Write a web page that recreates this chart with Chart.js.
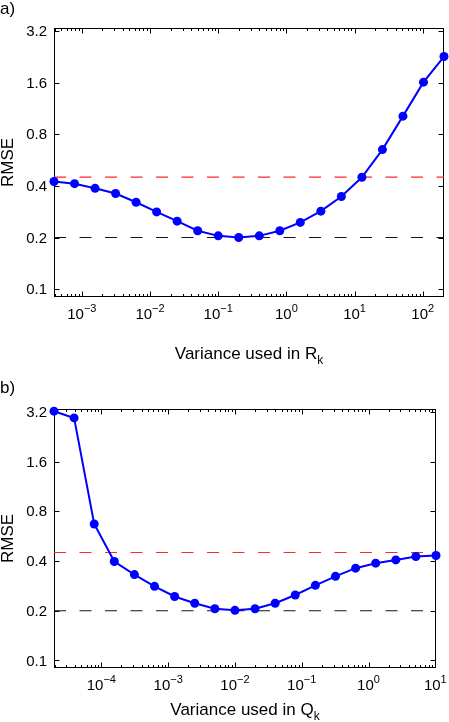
<!DOCTYPE html>
<html>
<head>
<meta charset="utf-8">
<script src="https://cdn.jsdelivr.net/npm/chart.js@4.4.1/dist/chart.umd.min.js"></script>
<style>
  html, body { margin: 0; padding: 0; background: #fff; overflow: hidden; }
  .panel { position: absolute; left: 0; width: 449px; }
  #boxA { top: 0; height: 380px; }
  #boxB { top: 370px; height: 352px; }
</style>
</head>
<body>
<div class="panel" id="boxA"><canvas id="canvasA"></canvas></div>
<div class="panel" id="boxB"><canvas id="canvasB"></canvas></div>
<script>
// panel a: variance used in R_k
const varianceR = [0.000390625, 0.00078125, 0.0015625, 0.003125, 0.00625, 0.0125, 0.025, 0.05, 0.1, 0.2,
                   0.4, 0.8, 1.6, 3.2, 6.4, 12.8, 25.6, 51.2, 102.4, 204.8];
const rmseR = [0.424, 0.412, 0.387, 0.361, 0.321, 0.282, 0.249, 0.219, 0.2045, 0.200,
               0.2045, 0.219, 0.245, 0.285, 0.347, 0.449, 0.651, 1.02, 1.61, 2.27];

// panel b: variance used in Q_k
const varianceQ = [0.00001953125, 0.0000390625, 0.000078125, 0.00015625, 0.0003125, 0.000625, 0.00125, 0.0025, 0.005, 0.01,
                   0.02, 0.04, 0.08, 0.16, 0.32, 0.64, 1.28, 2.56, 5.12, 10.24];
const rmseQ = [3.23, 2.94, 0.67, 0.397, 0.331, 0.281, 0.244, 0.222, 0.2056, 0.201,
               0.2056, 0.222, 0.249, 0.285, 0.323, 0.362, 0.388, 0.406, 0.426, 0.432];

// reference levels (dashed)
const refRed = 0.45;
const refBlack = 0.2;

const rmseTicks = [0.1, 0.2, 0.4, 0.8, 1.6, 3.2];
const rmseTickLabels = ['0.1', '0.2', '0.4', '0.8', '1.6', '3.2'];
const expTicksR = [-3, -2, -1, 0, 1, 2];
const expTicksQ = [-4, -3, -2, -1, 0, 1];
const rmseMin = 0.09, rmseMax = 3.33;

const FONT = '"Liberation Sans", Arial, Helvetica, sans-serif';

const matlabAxes = {
    id: 'matlabAxes',
    beforeDatasetsDraw(chart, args, opts) {
        const ctx = chart.ctx, a = chart.chartArea;
        const xs = chart.scales.x, ys = chart.scales.y;
        ctx.save();
        ctx.strokeStyle = '#000';
        ctx.lineWidth = 1;
        const L = Math.round(a.left) + 0.5, R = Math.round(a.right) - 0.5;
        const T = Math.round(a.top) + 0.5, B = Math.round(a.bottom) - 0.5;
        ctx.strokeRect(L, T, R - L, B - T);

        // log x ticks, major and minor, inward on bottom and top
        ctx.beginPath();
        const d0 = Math.floor(Math.log10(xs.min)), d1 = Math.ceil(Math.log10(xs.max));
        for (let d = d0; d <= d1; d++) {
            for (let m = 1; m <= 9; m++) {
                const v = m * Math.pow(10, d);
                if (v < xs.min * 0.999 || v > xs.max * 1.001) continue;
                const px = Math.round(xs.getPixelForValue(v)) + 0.5;
                const len = m === 1 ? 5 : 2.5;
                ctx.moveTo(px, B); ctx.lineTo(px, B - len);
                ctx.moveTo(px, T); ctx.lineTo(px, T + len);
            }
        }
        // y ticks left and right
        rmseTicks.forEach(t => {
            const py = Math.round(ys.getPixelForValue(t)) + 0.5;
            ctx.moveTo(L, py); ctx.lineTo(L + 5, py);
            ctx.moveTo(R, py); ctx.lineTo(R - 5, py);
        });
        ctx.stroke();
        ctx.restore();
    },
    afterDraw(chart, args, opts) {
        const ctx = chart.ctx, a = chart.chartArea;
        const xs = chart.scales.x, ys = chart.scales.y;
        ctx.save();
        ctx.fillStyle = '#000';

        // y tick labels
        ctx.font = '15px ' + FONT;
        ctx.textAlign = 'right';
        ctx.textBaseline = 'middle';
        rmseTicks.forEach((t, i) => {
            ctx.fillText(rmseTickLabels[i], a.left - 7, ys.getPixelForValue(t) + 1);
        });

        // x tick labels 10^e
        ctx.textAlign = 'left';
        ctx.textBaseline = 'alphabetic';
        opts.expTicks.forEach(e => {
            const px = xs.getPixelForValue(Math.pow(10, e));
            const expText = e < 0 ? '\u2212' + (-e) : String(e);
            ctx.font = '15px ' + FONT;
            const wb = ctx.measureText('10').width;
            ctx.font = '11px ' + FONT;
            const we = ctx.measureText(expText).width;
            const x0 = px - (wb + we) / 2;
            const by = a.bottom + 22;
            ctx.font = '15px ' + FONT;
            ctx.fillText('10', x0, by);
            ctx.font = '11px ' + FONT;
            ctx.fillText(expText, x0 + wb, by - 7);
        });

        // x axis title with subscript k
        const main = 'Variance used in ' + opts.sym;
        ctx.font = '17px ' + FONT;
        const wm = ctx.measureText(main).width;
        ctx.font = '12px ' + FONT;
        const wk = ctx.measureText('k').width;
        const tx = (a.left + a.right) / 2 - (wm + wk) / 2;
        const ty = a.bottom + opts.titleOffset;
        ctx.font = '17px ' + FONT;
        ctx.fillText(main, tx, ty);
        ctx.font = '12px ' + FONT;
        ctx.fillText('k', tx + wm, ty + 5);

        // y axis title
        ctx.save();
        ctx.font = '17px ' + FONT;
        ctx.translate(8, (a.top + a.bottom) / 2);
        ctx.rotate(-Math.PI / 2);
        ctx.textAlign = 'center';
        ctx.textBaseline = 'middle';
        ctx.fillText('RMSE', 0, 0);
        ctx.restore();

        // panel letter
        ctx.font = '17px ' + FONT;
        ctx.textAlign = 'left';
        ctx.fillText(opts.letter, 0, opts.letterY);
        ctx.restore();
    }
};

const makePanel = (canvasId, xs, ys, opts, padding) => {
    const xMin = xs[0], xMax = xs[xs.length - 1];
    const data = {
        datasets: [
            {
                data: xs.map((v, i) => ({ x: v, y: ys[i] })),
                borderColor: 'rgb(0, 0, 255)',
                backgroundColor: 'rgb(0, 0, 255)',
                borderWidth: 2,
                pointRadius: 4.5,
                pointBorderWidth: 0,
                clip: false,
                order: 0
            },
            {
                data: [{ x: xMin, y: refRed }, { x: xMax, y: refRed }],
                borderColor: 'rgb(255, 40, 40)',
                borderWidth: 1.1,
                borderDash: [12, 13.5],
                pointRadius: 0,
                order: 1
            },
            {
                data: [{ x: xMin, y: refBlack }, { x: xMax, y: refBlack }],
                borderColor: 'rgb(20, 20, 20)',
                borderWidth: 1.1,
                borderDash: [12, 13.5],
                pointRadius: 0,
                order: 2
            }
        ]
    };
    const config = {
        type: 'line',
        data: data,
        options: {
            responsive: true,
            maintainAspectRatio: false,
            animation: false,
            layout: { padding: padding },
            scales: {
                x: { type: 'logarithmic', min: xMin, max: xMax, display: false },
                y: { type: 'logarithmic', min: rmseMin, max: rmseMax, display: false }
            },
            plugins: {
                legend: { display: false },
                tooltip: { enabled: false },
                matlabAxes: opts
            }
        },
        plugins: [matlabAxes]
    };
    return new Chart(document.getElementById(canvasId), config);
};

makePanel('canvasA', varianceR, rmseR,
    { letter: 'a)', letterY: 14, sym: 'R', expTicks: expTicksR, titleOffset: 62 },
    { left: 54, right: 5, top: 28, bottom: 83 });

makePanel('canvasB', varianceQ, rmseQ,
    { letter: 'b)', letterY: 23, sym: 'Q', expTicks: expTicksQ, titleOffset: 47 },
    { left: 54, right: 13, top: 39, bottom: 54 });
</script>
</body>
</html>
